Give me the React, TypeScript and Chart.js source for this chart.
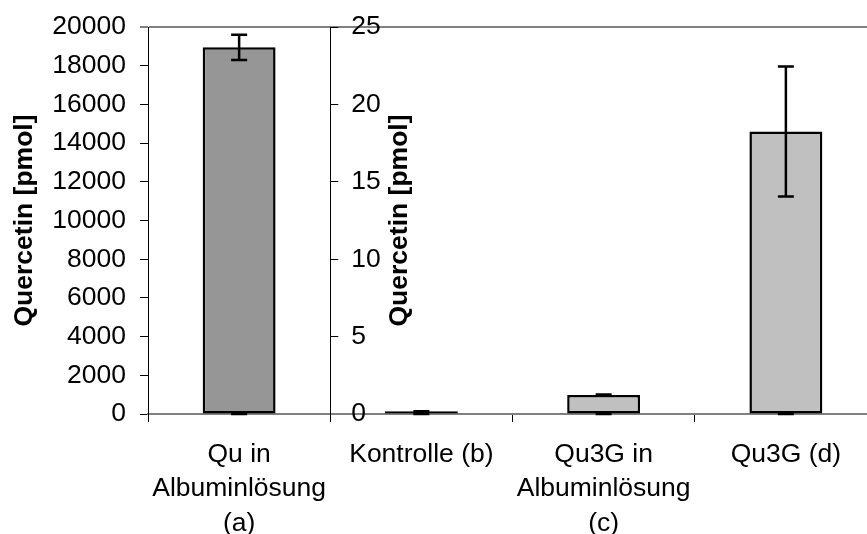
import React, { useEffect, useRef } from 'react';
import { Chart, registerables } from 'chart.js';

Chart.register(...registerables);

const categories: (string | string[])[] = [
  ['Qu in', 'Albuminlösung', '(a)'],
  'Kontrolle (b)',
  ['Qu3G in', 'Albuminlösung', '(c)'],
  'Qu3G (d)',
];
const quValues = [18950, 0, 0, 0];
const quErrors = [650, 0, 0, 0];
const qu3gValues = [0, 0.18, 1.23, 18.25];
const qu3gErrors = [0, 0, 0.03, 4.2];
const leftAxisMax = 20000;
const leftAxisStep = 2000;
const rightAxisMax = 25;
const rightAxisStep = 5;
const axisTitle = 'Quercetin [pmol]';

const FONT = '"Liberation Sans", Arial, sans-serif';
const FS = 26.5;

const errorBarPlugin = {
  id: 'errorBars',
  afterDatasetsDraw(chart: any) {
    const ctx = chart.ctx;
    chart.data.datasets.forEach((ds: any, i: number) => {
      const meta = chart.getDatasetMeta(i);
      const yScale = chart.scales[meta.yAxisID];
      const errs: number[] = ds.errors || [];
      meta.data.forEach((bar: any, j: number) => {
        const v = ds.data[j];
        const e = errs[j];
        if (v == null || e == null) return;
        const x = bar.x;
        const yTop = yScale.getPixelForValue(v + e);
        const yBot = yScale.getPixelForValue(v - e);
        ctx.save();
        ctx.strokeStyle = '#000';
        ctx.lineWidth = 2.5;
        ctx.beginPath();
        ctx.moveTo(x, yTop);
        ctx.lineTo(x, yBot);
        ctx.moveTo(x - 8, yTop);
        ctx.lineTo(x + 8, yTop);
        ctx.moveTo(x - 8, yBot);
        ctx.lineTo(x + 8, yBot);
        ctx.stroke();
        ctx.restore();
      });
    });
  },
};

const midAxisPlugin = {
  id: 'midAxis',
  afterLayout(chart: any) {
    const s = chart.scales.y2;
    const x = chart.scales.x.getPixelForValue(0.5);
    s.left = x;
    s.right = x;
    s.width = 0;
  },
};

const plainNumber = (v: any) => String(v);

export default function App() {
  const ref = useRef<HTMLCanvasElement>(null);
  useEffect(() => {
    if (!ref.current) return;
    const chart = new Chart(ref.current, {
      type: 'bar',
      data: {
        labels: categories as any,
        datasets: [
          {
            label: 'Qu',
            data: quValues,
            errors: quErrors,
            yAxisID: 'y',
            backgroundColor: '#969696',
            borderColor: '#000',
            borderWidth: 2.5,
            borderSkipped: false,
            inflateAmount: 0,
            grouped: false,
            barPercentage: 0.4,
            categoryPercentage: 1,
          } as any,
          {
            label: 'Qu3G',
            data: qu3gValues,
            errors: qu3gErrors,
            yAxisID: 'y2',
            backgroundColor: '#c0c0c0',
            borderColor: '#000',
            borderWidth: 2.5,
            borderSkipped: false,
            inflateAmount: 0,
            grouped: false,
            barPercentage: 0.4,
            categoryPercentage: 1,
          } as any,
        ],
      },
      options: {
        responsive: false,
        animation: false,
        layout: { padding: { top: 27, left: 0, right: 0, bottom: 0 } },
        plugins: {
          legend: { display: false },
          tooltip: { enabled: false },
        },
        scales: {
          x: {
            type: 'category',
            afterFit: (s: any) => { s.height = 120; s.paddingLeft = 0; s.paddingRight = 0; },
            grid: {
              display: true,
              offset: true,
              drawOnChartArea: false,
              drawTicks: true,
              tickLength: 8,
              tickColor: '#000',
              tickWidth: 1,
            },
            border: { display: true, color: '#808080', width: 2 },
            ticks: {
              color: '#000',
              padding: 15,
              maxRotation: 0,
              autoSkip: false,
              font: { family: FONT, size: FS, lineHeight: 1.31 },
            },
          },
          y: {
            type: 'linear',
            position: 'left',
            min: 0,
            max: leftAxisMax,
            afterFit: (s: any) => { s.width = 148; s.paddingTop = 0; s.paddingBottom = 0; },
            grid: {
              display: true,
              drawOnChartArea: true,
              drawTicks: true,
              tickLength: 8,
              color: (c: any) => (c.tick && c.tick.value === leftAxisMax ? '#808080' : 'rgba(0,0,0,0)'),
              lineWidth: (c: any) => (c.tick && c.tick.value === leftAxisMax ? 2 : 1),
              tickColor: '#000',
              tickWidth: 1,
            },
            border: { display: true, color: '#000', width: 1 },
            ticks: {
              stepSize: leftAxisStep,
              callback: plainNumber,
              color: '#000',
              padding: 14,
              font: { family: FONT, size: FS },
            },
            title: {
              display: true,
              text: axisTitle,
              color: '#000',
              padding: { top: 9, bottom: 0 },
              font: { family: FONT, size: FS, weight: 'bold' },
            },
          },
          y2: {
            type: 'linear',
            position: 'left',
            min: 0,
            max: rightAxisMax,
            afterFit: (s: any) => { s.width = 0; s.paddingTop = 0; s.paddingBottom = 0; },
            grid: {
              display: true,
              drawOnChartArea: false,
              drawTicks: true,
              tickLength: -8,
              tickColor: '#000',
              tickWidth: 1,
            },
            border: { display: true, color: '#000', width: 1 },
            ticks: {
              stepSize: rightAxisStep,
              callback: plainNumber,
              mirror: true,
              color: '#000',
              padding: 21,
              font: { family: FONT, size: FS },
            },
            title: {
              display: true,
              text: axisTitle,
              color: '#000',
              padding: { top: 54, bottom: 0 },
              font: { family: FONT, size: FS, weight: 'bold' },
            },
          },
        },
      } as any,
      plugins: [errorBarPlugin, midAxisPlugin],
    });
    return () => chart.destroy();
  }, []);

  return (
    <div style={{ position: 'fixed', left: 0, top: 0, width: 867, height: 534, overflow: 'hidden', background: '#fff' }}>
      <canvas ref={ref} width={877} height={534} style={{ display: 'block' }} />
    </div>
  );
}
